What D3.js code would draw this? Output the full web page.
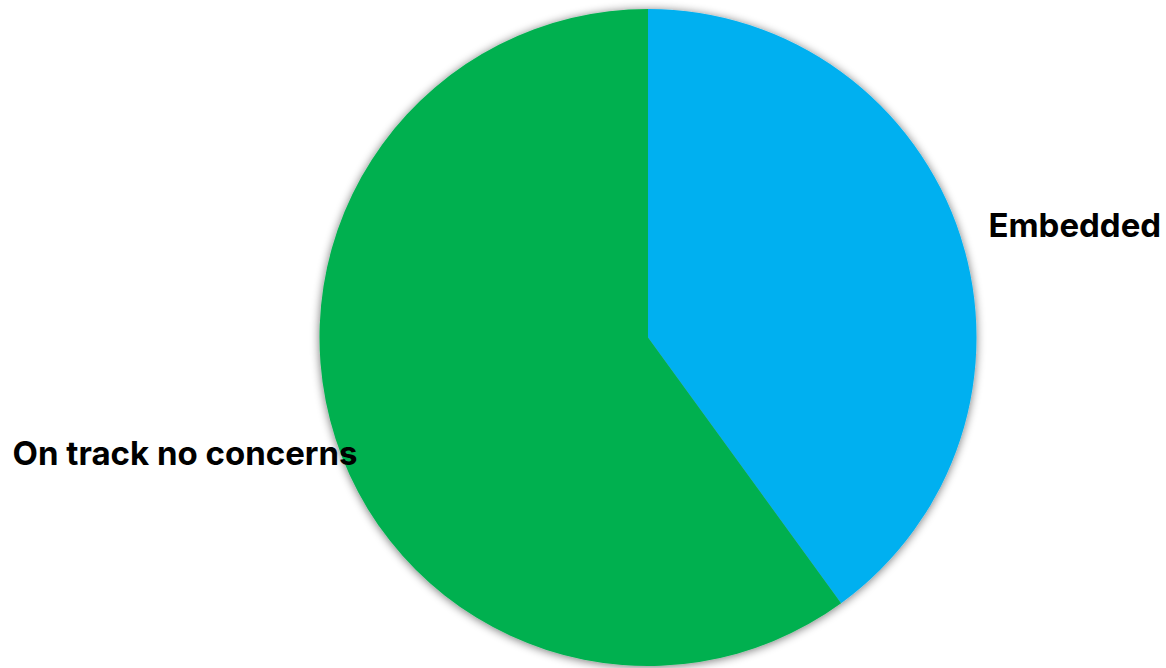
<!DOCTYPE html>
<html>
<head>
<meta charset="utf-8">
<script src="https://cdn.jsdelivr.net/npm/d3@7"></script>
<style>
  html, body { margin: 0; padding: 0; background: #ffffff; }
  svg { display: block; }
</style>
</head>
<body>
<svg id="chart" width="1166" height="668"></svg>
<script>
const categories = ["Embedded", "On track no concerns"];
const values = [40, 60];
const colors = ["#00B0F0", "#00B050"];

const W = 1166, H = 668;
const cx = 648, cy = 337.5, R = 328.5;

const svg = d3.select("#chart");
const defs = svg.append("defs");
const f = defs.append("filter").attr("id", "glow")
  .attr("x", "-10%").attr("y", "-10%").attr("width", "120%").attr("height", "120%");
f.append("feGaussianBlur").attr("in", "SourceAlpha").attr("stdDeviation", 5).attr("result", "b");
f.append("feOffset").attr("in", "b").attr("dx", 0).attr("dy", 1).attr("result", "o");
f.append("feComponentTransfer").attr("in", "o").attr("result", "s")
  .append("feFuncA").attr("type", "linear").attr("slope", 0.55);
const m = f.append("feMerge");
m.append("feMergeNode").attr("in", "s");
m.append("feMergeNode").attr("in", "SourceGraphic");

const data = categories.map((c, i) => ({ name: c, value: values[i], color: colors[i] }));
const pie = d3.pie().sort(null).value(d => d.value).startAngle(0).endAngle(2 * Math.PI);
const arc = d3.arc().innerRadius(0).outerRadius(R);

const g = svg.append("g").attr("transform", `translate(${cx},${cy})`);
const arcs = pie(data);
const slices = g.append("g").attr("filter", "url(#glow)");
slices.selectAll("path").data(arcs).join("path")
  .attr("d", arc)
  .attr("fill", d => d.data.color);

// labels (best-fit style placement)
const fontSize = 33;
const lab = svg.append("g")
  .attr("font-family", "Inter, 'Open Sans', sans-serif")
  .attr("font-weight", 700)
  .attr("font-size", fontSize)
  .attr("fill", "#000");

// Embedded: left-aligned just outside right edge
const a0 = (arcs[0].startAngle + arcs[0].endAngle) / 2;
lab.append("text")
  .attr("x", cx + R * Math.sin(a0) + 28)
  .attr("y", cy - R * Math.cos(a0) + 1)
  .attr("text-anchor", "start")
  .text(categories[0]);

// On track: right-aligned overlapping left edge
const a1 = (arcs[1].startAngle + arcs[1].endAngle) / 2;
lab.append("text")
  .attr("x", cx + R * Math.sin(a1) + 22)
  .attr("y", cy - R * Math.cos(a1) + 26)
  .attr("text-anchor", "end")
  .text(categories[1]);
</script>
</body>
</html>
